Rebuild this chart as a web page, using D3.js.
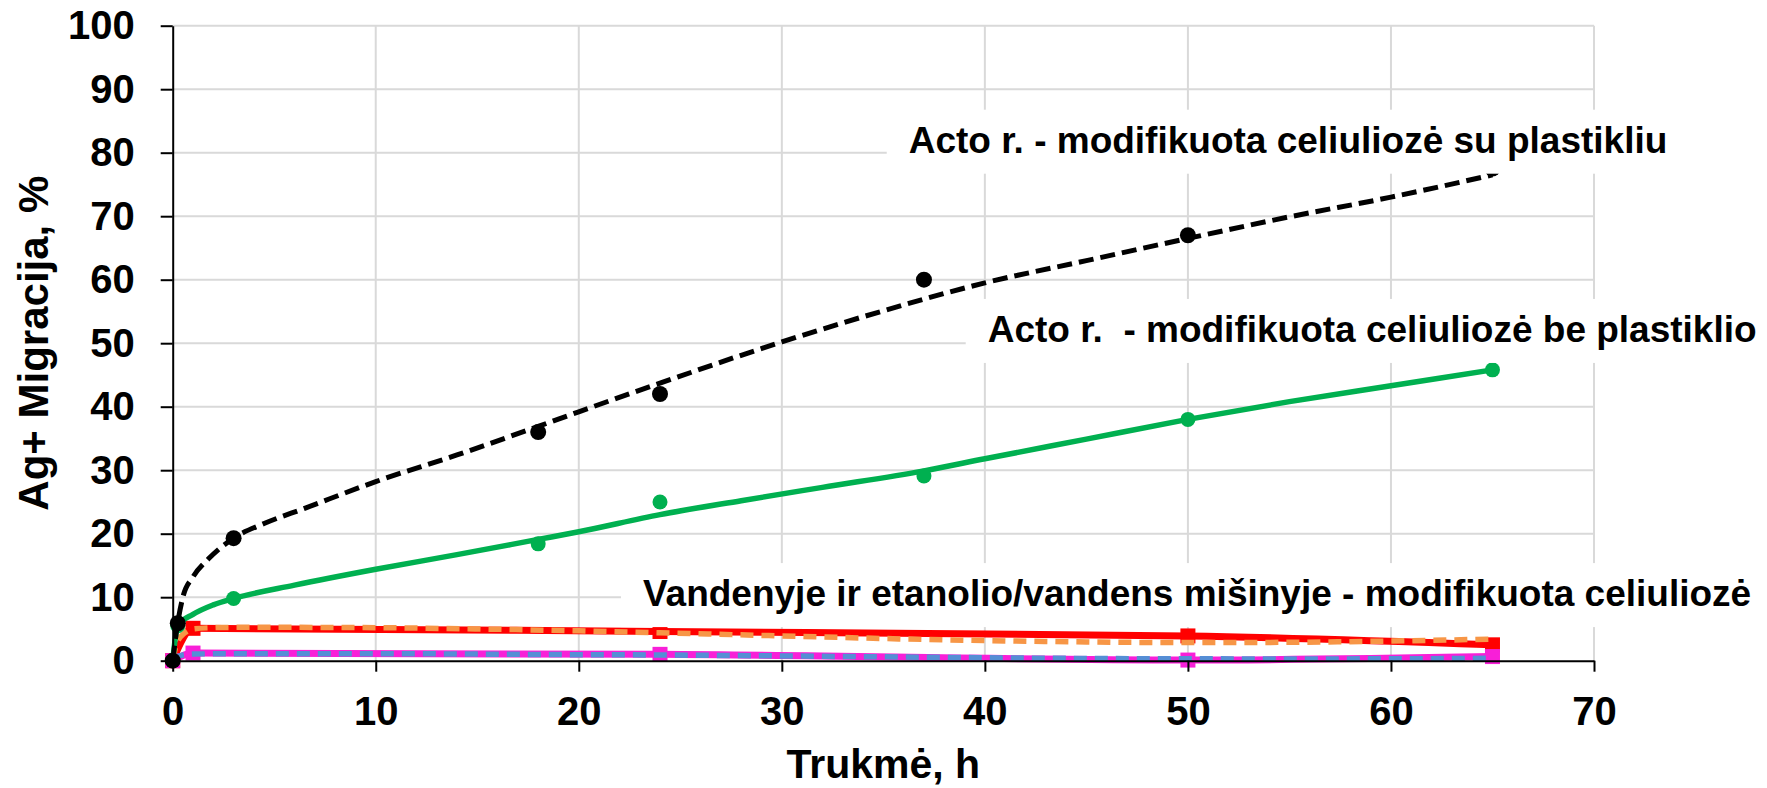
<!DOCTYPE html>
<html>
<head>
<meta charset="utf-8">
<script src="https://cdn.jsdelivr.net/npm/d3@7"></script>
<style>
  html, body { margin: 0; padding: 0; background: #fff; }
  svg { display: block; font-family: "Liberation Sans", Arial, sans-serif; }
</style>
</head>
<body>
<svg width="1767" height="788"></svg>
<script>
// measured points, Acto r. series (time in h, migration in %)
var timeAcid = [0, 0.25, 3, 18, 24, 37, 50, 65];
var blackPts = [0, 5.9, 19.3, 36, 42, 60, 67, 77.5];
var greenPts = [0, 5.5, 9.8, 18.4, 25, 29.1, 38, 45.8];

// measured points, water / ethanol-water series
var timeWater = [0, 1, 24, 50, 65];
var redPts = [0, 5.1, 4.6, 3.9, 2.5];
var magentaPts = [0, 1.2, 1.0, 0.1, 0.65];

// fitted curves
var blackFitT = [0, 0.25, 0.5, 1, 1.75, 3, 4.5, 6.5, 10, 14, 18, 20, 24, 28, 30, 35, 40, 45, 50, 55, 60, 65];
var blackFitV = [0, 6, 10, 13.2, 16, 19.3, 21.6, 24, 28.2, 32.4, 36.9, 39.2, 43.7, 48.1, 50.2, 55.1, 59.5, 63, 66.5, 69.9, 73, 76.5];
var greenFitT = [0, 0.25, 1, 2, 3, 6, 10, 14, 18, 20, 24, 28, 32, 37, 40, 45, 50, 55, 60, 65];
var greenFitV = [0, 5.5, 7.3, 8.8, 9.8, 11.9, 14.4, 16.7, 19.1, 20.3, 23.0, 25.2, 27.3, 29.9, 31.8, 34.9, 38.0, 40.8, 43.3, 45.8];
var orangeFitT = [0, 0.2, 0.6, 1, 2, 3, 6, 10, 15, 20, 24, 30, 37, 45, 50, 55, 60, 65];
var orangeFitV = [0, 2.7, 4.4, 5.0, 5.2, 5.25, 5.25, 5.2, 5.0, 4.7, 4.4, 3.9, 3.35, 2.95, 2.85, 2.9, 3.1, 3.4];
var blueFitT = [0, 0.2, 0.5, 1, 3, 10, 20, 24, 30, 37, 45, 50, 55, 60, 65];
var blueFitV = [0, 0.6, 0.9, 1.05, 1.1, 1.1, 0.95, 0.9, 0.75, 0.55, 0.35, 0.3, 0.28, 0.3, 0.38];

var xTicks = [0, 10, 20, 30, 40, 50, 60, 70];
var yTicks = [0, 10, 20, 30, 40, 50, 60, 70, 80, 90, 100];

// in-chart labels, anchored in data units (left end of baseline)
var labelTexts = ["Acto r. - modifikuota celiuliozė su plastikliu",
                  "Acto r.  - modifikuota celiuliozė be plastiklio",
                  "Vandenyje ir etanolio/vandens mišinyje - modifikuota celiuliozė"];
var labelT = [36.25, 40.14, 23.16];
var labelV = [80.0, 50.2, 8.6];

var svg = d3.select("svg"),
    width = +svg.attr("width"),
    height = +svg.attr("height");

var x = d3.scaleLinear().domain([0, 70]).range([172.7, 1594]);
var y = d3.scaleLinear().domain([0, 100]).range([660.7, 25.7]);

function zip(ts, vs) { return ts.map(function(t, i) { return [t, vs[i]]; }); }

var line = d3.line()
    .x(function(d) { return x(d[0]); })
    .y(function(d) { return y(d[1]); })
    .curve(d3.curveMonotoneX);

// grid
var grid = svg.append("g").attr("stroke", "#d9d9d9").attr("stroke-width", 2);
grid.selectAll("line.h")
    .data(yTicks.filter(function(d) { return d > 0; }))
    .enter().append("line")
    .attr("x1", x(0)).attr("x2", x(70))
    .attr("y1", function(d) { return y(d); }).attr("y2", function(d) { return y(d); });
grid.selectAll("line.v")
    .data(xTicks.filter(function(d) { return d > 0; }))
    .enter().append("line")
    .attr("y1", y(0)).attr("y2", y(100))
    .attr("x1", function(d) { return x(d); }).attr("x2", function(d) { return x(d); });

var plot = svg.append("g");

// water series: connecting lines then markers
plot.append("path").datum(zip(timeWater, redPts))
    .attr("d", line).attr("fill", "none").attr("stroke", "#ff0000").attr("stroke-width", 7);
plot.append("path").datum(zip(timeWater, magentaPts))
    .attr("d", line).attr("fill", "none").attr("stroke", "#f81fd8").attr("stroke-width", 7);

var sq = 15;
plot.selectAll("rect.red")
    .data(zip(timeWater, redPts))
    .enter().append("rect")
    .attr("x", function(d) { return x(d[0]) - sq / 2; })
    .attr("y", function(d) { return y(d[1]) - sq / 2; })
    .attr("width", sq).attr("height", sq)
    .attr("fill", "#ff0000");
plot.selectAll("rect.mag")
    .data(zip(timeWater, magentaPts))
    .enter().append("rect")
    .attr("x", function(d) { return x(d[0]) - sq / 2; })
    .attr("y", function(d) { return y(d[1]) - sq / 2; })
    .attr("width", sq).attr("height", sq)
    .attr("fill", "#f81fd8");

// trend curves for the water series
plot.append("path").datum(zip(orangeFitT, orangeFitV))
    .attr("d", line).attr("fill", "none").attr("stroke", "#f79646")
    .attr("stroke-width", 5.5).attr("stroke-dasharray", "13,8");
plot.append("path").datum(zip(blueFitT, blueFitV))
    .attr("d", line).attr("fill", "none").attr("stroke", "#558ed5")
    .attr("stroke-width", 5.5).attr("stroke-dasharray", "13,8");

// acid series
plot.append("path").datum(zip(greenFitT, greenFitV))
    .attr("d", line).attr("fill", "none").attr("stroke", "#00b050").attr("stroke-width", 5.5);
plot.selectAll("circle.green")
    .data(zip(timeAcid, greenPts))
    .enter().append("circle")
    .attr("cx", function(d) { return x(d[0]); })
    .attr("cy", function(d) { return y(d[1]); })
    .attr("r", 7.5).attr("fill", "#00b050");

plot.append("path").datum(zip(blackFitT, blackFitV))
    .attr("d", line).attr("fill", "none").attr("stroke", "#000")
    .attr("stroke-width", 5).attr("stroke-dasharray", "15,7");
plot.selectAll("circle.black")
    .data(zip(timeAcid, blackPts))
    .enter().append("circle")
    .attr("cx", function(d) { return x(d[0]); })
    .attr("cy", function(d) { return y(d[1]); })
    .attr("r", 8).attr("fill", "#000");

// labels sit on white boxes that hide what is behind them
var labels = svg.append("g");
labelTexts.forEach(function(txt, i) {
  var g = labels.append("g");
  var box = g.append("rect").attr("fill", "#fff");
  var t = g.append("text")
      .attr("x", x(labelT[i]))
      .attr("y", y(labelV[i]))
      .style("white-space", "pre")
      .attr("font-size", 37)
      .attr("font-weight", "bold")
      .attr("fill", "#000")
      .text(txt);
  var bb = t.node().getBBox();
  box.attr("x", bb.x - 22).attr("y", bb.y - 10)
     .attr("width", bb.width + 44).attr("height", bb.height + 23);
});

// axes
var xAxis = svg.append("g")
    .attr("transform", "translate(0," + y(0) + ")")
    .call(d3.axisBottom(x).tickValues(xTicks).tickSize(11).tickSizeOuter(0).tickPadding(25));
var yAxis = svg.append("g")
    .attr("transform", "translate(" + x(0) + ",0)")
    .call(d3.axisLeft(y).tickValues(yTicks).tickSize(12).tickSizeOuter(0).tickPadding(26));

[xAxis, yAxis].forEach(function(a) {
  a.select(".domain").attr("stroke", "#000").attr("stroke-width", 2);
  a.selectAll(".tick line").attr("stroke", "#000").attr("stroke-width", 2);
  a.selectAll(".tick text")
      .attr("fill", "#000")
      .attr("font-size", 40)
      .attr("font-weight", "bold")
      .attr("font-family", "'Liberation Sans', Arial, sans-serif");
});

// axis titles
svg.append("text")
    .attr("x", (x(0) + x(70)) / 2)
    .attr("y", 778)
    .attr("text-anchor", "middle")
    .attr("font-size", 41)
    .attr("font-weight", "bold")
    .text("Trukmė, h");

svg.append("text")
    .attr("transform", "translate(48," + (y(0) + y(100)) / 2 + ") rotate(-90)")
    .attr("text-anchor", "middle")
    .attr("font-size", 42)
    .attr("font-weight", "bold")
    .text("Ag+ Migracija, %");
</script>
</body>
</html>
